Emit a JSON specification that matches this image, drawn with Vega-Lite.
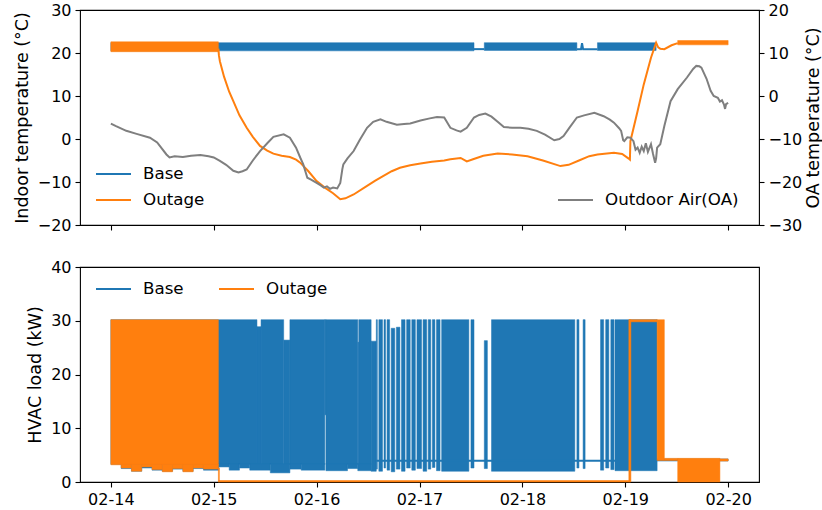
{
  "$schema": "https://vega.github.io/schema/vega-lite/v6.json",
  "background": "white",
  "padding": {"left": 12, "top": 1, "right": 0, "bottom": 2},
  "spacing": 24,
  "config": {
    "font": "DejaVu Sans",
    "view": {"stroke": "#000", "strokeWidth": 1.1},
    "axis": {"grid": false, "domain": false, "tickColor": "#000", "tickSize": 5, "tickWidth": 1.1, "labelColor": "#000", "labelFontSize": 16, "labelFont": "DejaVu Sans", "labelPadding": 4, "titleFont": "DejaVu Sans", "titleFontSize": 17.5, "titleFontWeight": "normal", "titleColor": "#000", "titlePadding": 6},
    "legend": {"labelFont": "DejaVu Sans", "labelFontSize": 16.7, "labelColor": "#000", "symbolType": "stroke", "symbolSize": 1225, "symbolStrokeWidth": 2, "labelOffset": 11, "rowPadding": 6, "clipHeight": 20, "padding": 0}
  },
  "datasets": {
    "tband": [
      {"series": "Base", "s": "2021-02-14T00:00", "e": "2021-02-17T12:43", "lo": 20.5, "hi": 22.4},
      {"series": "Base", "s": "2021-02-17T15:07", "e": "2021-02-18T12:43", "lo": 20.6, "hi": 22.4},
      {"series": "Base", "s": "2021-02-18T17:31", "e": "2021-02-19T07:12", "lo": 20.6, "hi": 22.4},
      {"series": "Outage", "s": "2021-02-14T00:00", "e": "2021-02-15T01:05", "lo": 20.3, "hi": 22.6},
      {"series": "Outage", "s": "2021-02-19T12:14", "e": "2021-02-20T00:00", "lo": 21.9, "hi": 22.9}
    ],
    "tline": [
      {"series": "Base", "seg": "b1", "t": "2021-02-17T12:43", "v": 20.9},
      {"series": "Base", "seg": "b1", "t": "2021-02-17T15:07", "v": 20.9},
      {"series": "Base", "seg": "b2", "t": "2021-02-18T12:43", "v": 20.9},
      {"series": "Base", "seg": "b2", "t": "2021-02-18T13:41", "v": 20.9},
      {"series": "Base", "seg": "b2", "t": "2021-02-18T13:55", "v": 22.3},
      {"series": "Base", "seg": "b2", "t": "2021-02-18T14:10", "v": 20.9},
      {"series": "Base", "seg": "b2", "t": "2021-02-18T17:31", "v": 20.9},
      {"series": "Outage", "seg": "o1", "t": "2021-02-15T01:05", "v": 21.0},
      {"series": "Outage", "seg": "o1", "t": "2021-02-15T01:12", "v": 19.5},
      {"series": "Outage", "seg": "o1", "t": "2021-02-15T01:26", "v": 18.1},
      {"series": "Outage", "seg": "o1", "t": "2021-02-15T02:24", "v": 14.5},
      {"series": "Outage", "seg": "o1", "t": "2021-02-15T03:36", "v": 11.0},
      {"series": "Outage", "seg": "o1", "t": "2021-02-15T04:34", "v": 8.8},
      {"series": "Outage", "seg": "o1", "t": "2021-02-15T06:00", "v": 5.5},
      {"series": "Outage", "seg": "o1", "t": "2021-02-15T07:41", "v": 2.6},
      {"series": "Outage", "seg": "o1", "t": "2021-02-15T09:07", "v": 0.5},
      {"series": "Outage", "seg": "o1", "t": "2021-02-15T10:48", "v": -1.6},
      {"series": "Outage", "seg": "o1", "t": "2021-02-15T12:29", "v": -2.7},
      {"series": "Outage", "seg": "o1", "t": "2021-02-15T13:55", "v": -3.4},
      {"series": "Outage", "seg": "o1", "t": "2021-02-15T15:50", "v": -3.9},
      {"series": "Outage", "seg": "o1", "t": "2021-02-15T17:46", "v": -4.2},
      {"series": "Outage", "seg": "o1", "t": "2021-02-15T19:12", "v": -4.8},
      {"series": "Outage", "seg": "o1", "t": "2021-02-15T20:10", "v": -5.5},
      {"series": "Outage", "seg": "o1", "t": "2021-02-15T22:05", "v": -7.5},
      {"series": "Outage", "seg": "o1", "t": "2021-02-16T00:00", "v": -9.8},
      {"series": "Outage", "seg": "o1", "t": "2021-02-16T01:55", "v": -11.3},
      {"series": "Outage", "seg": "o1", "t": "2021-02-16T03:50", "v": -12.6},
      {"series": "Outage", "seg": "o1", "t": "2021-02-16T05:31", "v": -14.0},
      {"series": "Outage", "seg": "o1", "t": "2021-02-16T06:43", "v": -13.8},
      {"series": "Outage", "seg": "o1", "t": "2021-02-16T08:38", "v": -12.9},
      {"series": "Outage", "seg": "o1", "t": "2021-02-16T11:46", "v": -10.9},
      {"series": "Outage", "seg": "o1", "t": "2021-02-16T13:41", "v": -9.7},
      {"series": "Outage", "seg": "o1", "t": "2021-02-16T15:36", "v": -8.6},
      {"series": "Outage", "seg": "o1", "t": "2021-02-16T17:31", "v": -7.5},
      {"series": "Outage", "seg": "o1", "t": "2021-02-16T19:26", "v": -6.7},
      {"series": "Outage", "seg": "o1", "t": "2021-02-16T21:50", "v": -6.1},
      {"series": "Outage", "seg": "o1", "t": "2021-02-17T00:14", "v": -5.7},
      {"series": "Outage", "seg": "o1", "t": "2021-02-17T02:53", "v": -5.3},
      {"series": "Outage", "seg": "o1", "t": "2021-02-17T05:46", "v": -5.0},
      {"series": "Outage", "seg": "o1", "t": "2021-02-17T07:12", "v": -4.7},
      {"series": "Outage", "seg": "o1", "t": "2021-02-17T09:36", "v": -4.4},
      {"series": "Outage", "seg": "o1", "t": "2021-02-17T11:02", "v": -5.2},
      {"series": "Outage", "seg": "o1", "t": "2021-02-17T12:29", "v": -4.7},
      {"series": "Outage", "seg": "o1", "t": "2021-02-17T14:53", "v": -3.9},
      {"series": "Outage", "seg": "o1", "t": "2021-02-17T18:14", "v": -3.4},
      {"series": "Outage", "seg": "o1", "t": "2021-02-17T21:36", "v": -3.6},
      {"series": "Outage", "seg": "o1", "t": "2021-02-18T01:12", "v": -4.0},
      {"series": "Outage", "seg": "o1", "t": "2021-02-18T04:48", "v": -5.0},
      {"series": "Outage", "seg": "o1", "t": "2021-02-18T08:53", "v": -6.3},
      {"series": "Outage", "seg": "o1", "t": "2021-02-18T10:48", "v": -6.0},
      {"series": "Outage", "seg": "o1", "t": "2021-02-18T13:12", "v": -5.0},
      {"series": "Outage", "seg": "o1", "t": "2021-02-18T15:36", "v": -4.0},
      {"series": "Outage", "seg": "o1", "t": "2021-02-18T17:31", "v": -3.6},
      {"series": "Outage", "seg": "o1", "t": "2021-02-18T21:22", "v": -3.2},
      {"series": "Outage", "seg": "o1", "t": "2021-02-18T23:17", "v": -3.5},
      {"series": "Outage", "seg": "o1", "t": "2021-02-19T00:43", "v": -4.5},
      {"series": "Outage", "seg": "o1", "t": "2021-02-19T01:05", "v": -4.8},
      {"series": "Outage", "seg": "o1", "t": "2021-02-19T01:12", "v": -0.5},
      {"series": "Outage", "seg": "o1", "t": "2021-02-19T02:53", "v": 6.5},
      {"series": "Outage", "seg": "o1", "t": "2021-02-19T04:19", "v": 12.7},
      {"series": "Outage", "seg": "o1", "t": "2021-02-19T06:00", "v": 18.9},
      {"series": "Outage", "seg": "o1", "t": "2021-02-19T07:12", "v": 22.4},
      {"series": "Outage", "seg": "o1", "t": "2021-02-19T07:41", "v": 21.3},
      {"series": "Outage", "seg": "o1", "t": "2021-02-19T08:10", "v": 21.0},
      {"series": "Outage", "seg": "o1", "t": "2021-02-19T09:07", "v": 20.9},
      {"series": "Outage", "seg": "o1", "t": "2021-02-19T10:48", "v": 21.8},
      {"series": "Outage", "seg": "o1", "t": "2021-02-19T12:14", "v": 22.3}
    ],
    "oa": [
      {"name": "Outdoor Air(OA)", "t": "2021-02-14T00:00", "v": -6.4},
      {"name": "Outdoor Air(OA)", "t": "2021-02-14T01:12", "v": -7.0},
      {"name": "Outdoor Air(OA)", "t": "2021-02-14T03:36", "v": -8.1},
      {"name": "Outdoor Air(OA)", "t": "2021-02-14T06:00", "v": -8.8},
      {"name": "Outdoor Air(OA)", "t": "2021-02-14T09:07", "v": -9.7},
      {"name": "Outdoor Air(OA)", "t": "2021-02-14T10:48", "v": -10.8},
      {"name": "Outdoor Air(OA)", "t": "2021-02-14T12:58", "v": -13.6},
      {"name": "Outdoor Air(OA)", "t": "2021-02-14T13:41", "v": -14.3},
      {"name": "Outdoor Air(OA)", "t": "2021-02-14T14:53", "v": -14.0},
      {"name": "Outdoor Air(OA)", "t": "2021-02-14T16:48", "v": -14.2},
      {"name": "Outdoor Air(OA)", "t": "2021-02-14T18:43", "v": -13.9},
      {"name": "Outdoor Air(OA)", "t": "2021-02-14T20:53", "v": -13.7},
      {"name": "Outdoor Air(OA)", "t": "2021-02-14T22:48", "v": -14.0},
      {"name": "Outdoor Air(OA)", "t": "2021-02-15T00:00", "v": -14.3},
      {"name": "Outdoor Air(OA)", "t": "2021-02-15T01:26", "v": -15.1},
      {"name": "Outdoor Air(OA)", "t": "2021-02-15T02:53", "v": -16.0},
      {"name": "Outdoor Air(OA)", "t": "2021-02-15T04:34", "v": -17.4},
      {"name": "Outdoor Air(OA)", "t": "2021-02-15T05:46", "v": -17.8},
      {"name": "Outdoor Air(OA)", "t": "2021-02-15T06:43", "v": -17.5},
      {"name": "Outdoor Air(OA)", "t": "2021-02-15T07:41", "v": -17.1},
      {"name": "Outdoor Air(OA)", "t": "2021-02-15T09:07", "v": -15.0},
      {"name": "Outdoor Air(OA)", "t": "2021-02-15T10:48", "v": -12.8},
      {"name": "Outdoor Air(OA)", "t": "2021-02-15T12:29", "v": -11.0},
      {"name": "Outdoor Air(OA)", "t": "2021-02-15T13:55", "v": -9.5},
      {"name": "Outdoor Air(OA)", "t": "2021-02-15T16:19", "v": -8.9},
      {"name": "Outdoor Air(OA)", "t": "2021-02-15T17:46", "v": -9.7},
      {"name": "Outdoor Air(OA)", "t": "2021-02-15T19:12", "v": -12.0},
      {"name": "Outdoor Air(OA)", "t": "2021-02-15T20:10", "v": -14.3},
      {"name": "Outdoor Air(OA)", "t": "2021-02-15T20:53", "v": -15.9},
      {"name": "Outdoor Air(OA)", "t": "2021-02-15T21:22", "v": -17.5},
      {"name": "Outdoor Air(OA)", "t": "2021-02-15T21:50", "v": -19.0},
      {"name": "Outdoor Air(OA)", "t": "2021-02-15T22:48", "v": -19.5},
      {"name": "Outdoor Air(OA)", "t": "2021-02-16T00:00", "v": -20.2},
      {"name": "Outdoor Air(OA)", "t": "2021-02-16T00:58", "v": -20.8},
      {"name": "Outdoor Air(OA)", "t": "2021-02-16T01:41", "v": -21.3},
      {"name": "Outdoor Air(OA)", "t": "2021-02-16T02:24", "v": -21.0},
      {"name": "Outdoor Air(OA)", "t": "2021-02-16T03:07", "v": -21.6},
      {"name": "Outdoor Air(OA)", "t": "2021-02-16T03:50", "v": -21.3},
      {"name": "Outdoor Air(OA)", "t": "2021-02-16T04:48", "v": -21.5},
      {"name": "Outdoor Air(OA)", "t": "2021-02-16T05:31", "v": -20.2},
      {"name": "Outdoor Air(OA)", "t": "2021-02-16T06:00", "v": -17.0},
      {"name": "Outdoor Air(OA)", "t": "2021-02-16T06:14", "v": -15.9},
      {"name": "Outdoor Air(OA)", "t": "2021-02-16T07:12", "v": -14.5},
      {"name": "Outdoor Air(OA)", "t": "2021-02-16T08:38", "v": -12.8},
      {"name": "Outdoor Air(OA)", "t": "2021-02-16T10:05", "v": -10.2},
      {"name": "Outdoor Air(OA)", "t": "2021-02-16T11:46", "v": -7.4},
      {"name": "Outdoor Air(OA)", "t": "2021-02-16T13:12", "v": -6.0},
      {"name": "Outdoor Air(OA)", "t": "2021-02-16T14:53", "v": -5.4},
      {"name": "Outdoor Air(OA)", "t": "2021-02-16T16:19", "v": -6.0},
      {"name": "Outdoor Air(OA)", "t": "2021-02-16T18:43", "v": -6.7},
      {"name": "Outdoor Air(OA)", "t": "2021-02-16T20:24", "v": -6.5},
      {"name": "Outdoor Air(OA)", "t": "2021-02-16T21:50", "v": -6.4},
      {"name": "Outdoor Air(OA)", "t": "2021-02-17T00:14", "v": -5.7},
      {"name": "Outdoor Air(OA)", "t": "2021-02-17T02:24", "v": -5.2},
      {"name": "Outdoor Air(OA)", "t": "2021-02-17T04:05", "v": -4.9},
      {"name": "Outdoor Air(OA)", "t": "2021-02-17T05:46", "v": -5.0},
      {"name": "Outdoor Air(OA)", "t": "2021-02-17T07:12", "v": -7.4},
      {"name": "Outdoor Air(OA)", "t": "2021-02-17T08:38", "v": -8.0},
      {"name": "Outdoor Air(OA)", "t": "2021-02-17T09:36", "v": -8.3},
      {"name": "Outdoor Air(OA)", "t": "2021-02-17T11:02", "v": -7.4},
      {"name": "Outdoor Air(OA)", "t": "2021-02-17T12:43", "v": -5.0},
      {"name": "Outdoor Air(OA)", "t": "2021-02-17T13:55", "v": -4.4},
      {"name": "Outdoor Air(OA)", "t": "2021-02-17T15:22", "v": -4.1},
      {"name": "Outdoor Air(OA)", "t": "2021-02-17T16:48", "v": -4.8},
      {"name": "Outdoor Air(OA)", "t": "2021-02-17T18:14", "v": -6.0},
      {"name": "Outdoor Air(OA)", "t": "2021-02-17T19:41", "v": -7.2},
      {"name": "Outdoor Air(OA)", "t": "2021-02-17T21:36", "v": -7.4},
      {"name": "Outdoor Air(OA)", "t": "2021-02-17T23:31", "v": -7.4},
      {"name": "Outdoor Air(OA)", "t": "2021-02-18T01:26", "v": -7.6},
      {"name": "Outdoor Air(OA)", "t": "2021-02-18T03:22", "v": -8.1},
      {"name": "Outdoor Air(OA)", "t": "2021-02-18T05:17", "v": -9.0},
      {"name": "Outdoor Air(OA)", "t": "2021-02-18T07:26", "v": -10.3},
      {"name": "Outdoor Air(OA)", "t": "2021-02-18T08:38", "v": -10.0},
      {"name": "Outdoor Air(OA)", "t": "2021-02-18T09:36", "v": -9.3},
      {"name": "Outdoor Air(OA)", "t": "2021-02-18T11:02", "v": -7.3},
      {"name": "Outdoor Air(OA)", "t": "2021-02-18T12:43", "v": -5.0},
      {"name": "Outdoor Air(OA)", "t": "2021-02-18T14:24", "v": -4.5},
      {"name": "Outdoor Air(OA)", "t": "2021-02-18T16:48", "v": -3.9},
      {"name": "Outdoor Air(OA)", "t": "2021-02-18T18:58", "v": -4.7},
      {"name": "Outdoor Air(OA)", "t": "2021-02-18T20:24", "v": -5.5},
      {"name": "Outdoor Air(OA)", "t": "2021-02-18T21:22", "v": -6.2},
      {"name": "Outdoor Air(OA)", "t": "2021-02-18T22:34", "v": -7.5},
      {"name": "Outdoor Air(OA)", "t": "2021-02-18T23:02", "v": -8.1},
      {"name": "Outdoor Air(OA)", "t": "2021-02-18T23:31", "v": -10.3},
      {"name": "Outdoor Air(OA)", "t": "2021-02-18T23:46", "v": -10.5},
      {"name": "Outdoor Air(OA)", "t": "2021-02-19T00:29", "v": -9.6},
      {"name": "Outdoor Air(OA)", "t": "2021-02-19T01:12", "v": -9.7},
      {"name": "Outdoor Air(OA)", "t": "2021-02-19T01:55", "v": -10.5},
      {"name": "Outdoor Air(OA)", "t": "2021-02-19T02:24", "v": -12.5},
      {"name": "Outdoor Air(OA)", "t": "2021-02-19T02:53", "v": -12.0},
      {"name": "Outdoor Air(OA)", "t": "2021-02-19T03:22", "v": -13.2},
      {"name": "Outdoor Air(OA)", "t": "2021-02-19T03:50", "v": -11.8},
      {"name": "Outdoor Air(OA)", "t": "2021-02-19T04:19", "v": -12.8},
      {"name": "Outdoor Air(OA)", "t": "2021-02-19T04:48", "v": -11.0},
      {"name": "Outdoor Air(OA)", "t": "2021-02-19T05:17", "v": -13.0},
      {"name": "Outdoor Air(OA)", "t": "2021-02-19T06:00", "v": -11.2},
      {"name": "Outdoor Air(OA)", "t": "2021-02-19T06:29", "v": -13.5},
      {"name": "Outdoor Air(OA)", "t": "2021-02-19T06:58", "v": -15.5},
      {"name": "Outdoor Air(OA)", "t": "2021-02-19T07:12", "v": -14.5},
      {"name": "Outdoor Air(OA)", "t": "2021-02-19T07:26", "v": -12.0},
      {"name": "Outdoor Air(OA)", "t": "2021-02-19T08:10", "v": -11.2},
      {"name": "Outdoor Air(OA)", "t": "2021-02-19T09:07", "v": -7.0},
      {"name": "Outdoor Air(OA)", "t": "2021-02-19T10:34", "v": -1.2},
      {"name": "Outdoor Air(OA)", "t": "2021-02-19T12:14", "v": 1.6},
      {"name": "Outdoor Air(OA)", "t": "2021-02-19T14:24", "v": 4.3},
      {"name": "Outdoor Air(OA)", "t": "2021-02-19T15:50", "v": 6.3},
      {"name": "Outdoor Air(OA)", "t": "2021-02-19T16:34", "v": 7.0},
      {"name": "Outdoor Air(OA)", "t": "2021-02-19T17:17", "v": 6.9},
      {"name": "Outdoor Air(OA)", "t": "2021-02-19T17:46", "v": 6.6},
      {"name": "Outdoor Air(OA)", "t": "2021-02-19T18:58", "v": 4.0},
      {"name": "Outdoor Air(OA)", "t": "2021-02-19T19:55", "v": 1.2},
      {"name": "Outdoor Air(OA)", "t": "2021-02-19T20:38", "v": 0.0},
      {"name": "Outdoor Air(OA)", "t": "2021-02-19T21:36", "v": -0.4},
      {"name": "Outdoor Air(OA)", "t": "2021-02-19T22:05", "v": -1.3},
      {"name": "Outdoor Air(OA)", "t": "2021-02-19T22:34", "v": -1.0},
      {"name": "Outdoor Air(OA)", "t": "2021-02-19T23:02", "v": -2.0},
      {"name": "Outdoor Air(OA)", "t": "2021-02-19T23:17", "v": -3.0},
      {"name": "Outdoor Air(OA)", "t": "2021-02-19T23:31", "v": -1.9},
      {"name": "Outdoor Air(OA)", "t": "2021-02-20T00:00", "v": -1.6}
    ],
    "hband": [
      {"series": "Base", "s": "2021-02-19T07:26", "e": "2021-02-20T00:00", "lo": 3.9, "hi": 4.3},
      {"series": "Base", "s": "2021-02-14T00:00", "e": "2021-02-15T10:05", "lo": 3.3, "hi": 30.2},
      {"series": "Base", "s": "2021-02-15T10:05", "e": "2021-02-15T11:02", "lo": 3.3, "hi": 28.9},
      {"series": "Base", "s": "2021-02-15T11:02", "e": "2021-02-15T16:19", "lo": 3.3, "hi": 30.2},
      {"series": "Base", "s": "2021-02-15T16:19", "e": "2021-02-15T17:46", "lo": 3.3, "hi": 26.4},
      {"series": "Base", "s": "2021-02-15T17:46", "e": "2021-02-16T01:55", "lo": 3.3, "hi": 30.2},
      {"series": "Base", "s": "2021-02-16T01:55", "e": "2021-02-16T02:10", "lo": 12.5, "hi": 30.2},
      {"series": "Base", "s": "2021-02-16T02:10", "e": "2021-02-16T09:36", "lo": 3.3, "hi": 30.2},
      {"series": "Base", "s": "2021-02-16T09:36", "e": "2021-02-16T09:50", "lo": 3.3, "hi": 26.0},
      {"series": "Base", "s": "2021-02-16T09:50", "e": "2021-02-16T12:43", "lo": 3.3, "hi": 30.2},
      {"series": "Base", "s": "2021-02-16T12:43", "e": "2021-02-16T13:55", "lo": 2.0, "hi": 26.2},
      {"series": "Base", "s": "2021-02-14T02:24", "e": "2021-02-14T04:48", "lo": 2.5, "hi": 3.4},
      {"series": "Base", "s": "2021-02-14T04:48", "e": "2021-02-14T07:12", "lo": 2.0, "hi": 3.4},
      {"series": "Base", "s": "2021-02-14T07:12", "e": "2021-02-14T09:36", "lo": 2.6, "hi": 3.4},
      {"series": "Base", "s": "2021-02-14T09:36", "e": "2021-02-14T12:00", "lo": 2.2, "hi": 3.4},
      {"series": "Base", "s": "2021-02-14T12:00", "e": "2021-02-14T14:24", "lo": 2.0, "hi": 3.4},
      {"series": "Base", "s": "2021-02-14T14:24", "e": "2021-02-14T16:48", "lo": 2.4, "hi": 3.4},
      {"series": "Base", "s": "2021-02-14T16:48", "e": "2021-02-14T19:12", "lo": 2.0, "hi": 3.4},
      {"series": "Base", "s": "2021-02-14T19:12", "e": "2021-02-14T21:36", "lo": 2.5, "hi": 3.4},
      {"series": "Base", "s": "2021-02-14T21:36", "e": "2021-02-15T01:12", "lo": 2.2, "hi": 3.4},
      {"series": "Base", "s": "2021-02-15T01:12", "e": "2021-02-15T03:36", "lo": 2.8, "hi": 3.4},
      {"series": "Base", "s": "2021-02-15T03:36", "e": "2021-02-15T06:00", "lo": 2.2, "hi": 3.4},
      {"series": "Base", "s": "2021-02-15T06:00", "e": "2021-02-15T08:24", "lo": 2.6, "hi": 3.4},
      {"series": "Base", "s": "2021-02-15T08:24", "e": "2021-02-15T13:12", "lo": 2.2, "hi": 3.4},
      {"series": "Base", "s": "2021-02-15T13:12", "e": "2021-02-15T17:46", "lo": 1.7, "hi": 3.4},
      {"series": "Base", "s": "2021-02-15T17:46", "e": "2021-02-15T20:24", "lo": 2.4, "hi": 3.4},
      {"series": "Base", "s": "2021-02-15T20:24", "e": "2021-02-16T01:55", "lo": 2.2, "hi": 3.4},
      {"series": "Base", "s": "2021-02-16T02:10", "e": "2021-02-16T07:12", "lo": 2.1, "hi": 3.4},
      {"series": "Base", "s": "2021-02-16T07:12", "e": "2021-02-16T09:36", "lo": 2.5, "hi": 3.4},
      {"series": "Base", "s": "2021-02-16T09:36", "e": "2021-02-16T12:43", "lo": 2.1, "hi": 3.4},
      {"series": "Base", "s": "2021-02-16T13:55", "e": "2021-02-16T14:10", "lo": 2.4, "hi": 30.2},
      {"series": "Base", "s": "2021-02-16T14:31", "e": "2021-02-16T15:22", "lo": 2.0, "hi": 30.2},
      {"series": "Base", "s": "2021-02-16T15:43", "e": "2021-02-16T16:05", "lo": 2.6, "hi": 30.2},
      {"series": "Base", "s": "2021-02-16T16:26", "e": "2021-02-16T17:02", "lo": 2.2, "hi": 30.2},
      {"series": "Base", "s": "2021-02-16T17:24", "e": "2021-02-16T18:14", "lo": 1.9, "hi": 28.6},
      {"series": "Base", "s": "2021-02-16T18:36", "e": "2021-02-16T19:26", "lo": 2.4, "hi": 28.8},
      {"series": "Base", "s": "2021-02-16T19:48", "e": "2021-02-16T20:38", "lo": 2.0, "hi": 30.2},
      {"series": "Base", "s": "2021-02-16T21:00", "e": "2021-02-16T21:50", "lo": 2.6, "hi": 30.2},
      {"series": "Base", "s": "2021-02-16T22:12", "e": "2021-02-16T23:02", "lo": 2.2, "hi": 30.2},
      {"series": "Base", "s": "2021-02-16T23:24", "e": "2021-02-17T00:29", "lo": 2.5, "hi": 30.2},
      {"series": "Base", "s": "2021-02-17T00:50", "e": "2021-02-17T01:41", "lo": 2.0, "hi": 30.2},
      {"series": "Base", "s": "2021-02-17T02:02", "e": "2021-02-17T02:38", "lo": 2.4, "hi": 30.2},
      {"series": "Base", "s": "2021-02-17T03:00", "e": "2021-02-17T03:36", "lo": 2.7, "hi": 30.2},
      {"series": "Base", "s": "2021-02-17T03:58", "e": "2021-02-17T04:48", "lo": 2.1, "hi": 30.2},
      {"series": "Base", "s": "2021-02-17T05:10", "e": "2021-02-17T11:31", "lo": 2.0, "hi": 30.2},
      {"series": "Base", "s": "2021-02-17T12:00", "e": "2021-02-17T12:43", "lo": 2.6, "hi": 30.2},
      {"series": "Base", "s": "2021-02-17T15:07", "e": "2021-02-17T15:50", "lo": 2.5, "hi": 26.3},
      {"series": "Base", "s": "2021-02-17T16:48", "e": "2021-02-18T12:14", "lo": 2.0, "hi": 30.2},
      {"series": "Base", "s": "2021-02-18T12:43", "e": "2021-02-18T13:12", "lo": 2.6, "hi": 30.2},
      {"series": "Base", "s": "2021-02-18T14:10", "e": "2021-02-18T14:38", "lo": 2.5, "hi": 30.2},
      {"series": "Base", "s": "2021-02-18T18:14", "e": "2021-02-18T18:58", "lo": 2.2, "hi": 30.2},
      {"series": "Base", "s": "2021-02-18T19:26", "e": "2021-02-18T20:10", "lo": 2.6, "hi": 30.2},
      {"series": "Base", "s": "2021-02-18T20:38", "e": "2021-02-18T21:22", "lo": 2.3, "hi": 30.2},
      {"series": "Base", "s": "2021-02-18T21:36", "e": "2021-02-19T07:26", "lo": 2.1, "hi": 30.2},
      {"series": "Outage", "s": "2021-02-14T00:00", "e": "2021-02-15T01:05", "lo": 3.2, "hi": 30.2},
      {"series": "Outage", "s": "2021-02-14T02:24", "e": "2021-02-14T04:48", "lo": 2.6, "hi": 3.3},
      {"series": "Outage", "s": "2021-02-14T04:48", "e": "2021-02-14T07:12", "lo": 2.0, "hi": 3.3},
      {"series": "Outage", "s": "2021-02-14T07:12", "e": "2021-02-14T09:36", "lo": 2.8, "hi": 3.3},
      {"series": "Outage", "s": "2021-02-14T09:36", "e": "2021-02-14T12:00", "lo": 2.3, "hi": 3.3},
      {"series": "Outage", "s": "2021-02-14T12:00", "e": "2021-02-14T14:24", "lo": 1.9, "hi": 3.3},
      {"series": "Outage", "s": "2021-02-14T14:24", "e": "2021-02-14T16:48", "lo": 2.5, "hi": 3.3},
      {"series": "Outage", "s": "2021-02-14T16:48", "e": "2021-02-14T19:12", "lo": 1.9, "hi": 3.3},
      {"series": "Outage", "s": "2021-02-14T19:12", "e": "2021-02-14T21:36", "lo": 2.6, "hi": 3.3},
      {"series": "Outage", "s": "2021-02-14T21:36", "e": "2021-02-15T01:05", "lo": 2.4, "hi": 3.3},
      {"series": "Outage", "s": "2021-02-15T01:05", "e": "2021-02-15T01:19", "lo": 0.0, "hi": 2.6},
      {"series": "Outage", "s": "2021-02-19T00:50", "e": "2021-02-19T01:19", "lo": 0.0, "hi": 30.2},
      {"series": "Outage", "s": "2021-02-19T00:58", "e": "2021-02-19T07:26", "lo": 29.8, "hi": 30.2},
      {"series": "Outage", "s": "2021-02-19T07:26", "e": "2021-02-19T09:07", "lo": 4.0, "hi": 30.2},
      {"series": "Outage", "s": "2021-02-19T09:07", "e": "2021-02-19T12:14", "lo": 4.0, "hi": 4.4},
      {"series": "Outage", "s": "2021-02-19T12:14", "e": "2021-02-19T22:05", "lo": 0.0, "hi": 4.4},
      {"series": "Outage", "s": "2021-02-19T22:05", "e": "2021-02-20T00:00", "lo": 3.9, "hi": 4.3}
    ],
    "hline": [
      {"series": "Base", "t": "2021-02-16T13:55", "v": 3.95},
      {"series": "Base", "t": "2021-02-18T21:36", "v": 3.95},
      {"series": "Outage", "t": "2021-02-15T01:05", "v": 0.12},
      {"series": "Outage", "t": "2021-02-19T00:58", "v": 0.12}
    ]
  },
  "vconcat": [
    {
      "width": 679,
      "height": 215,
      "layer": [
        {
          "layer": [
            {
              "data": {"name": "tband"},
              "mark": {"type": "rect", "strokeWidth": 0.5},
              "encoding": {
                "x": {"field": "s", "type": "temporal", "scale": {"domain": [{"year": 2021, "month": 2, "date": 13, "hours": 16, "minutes": 48}, {"year": 2021, "month": 2, "date": 20, "hours": 7, "minutes": 12}]}, "axis": {"title": null, "labels": false, "values": [{"year": 2021, "month": 2, "date": 14}, {"year": 2021, "month": 2, "date": 15}, {"year": 2021, "month": 2, "date": 16}, {"year": 2021, "month": 2, "date": 17}, {"year": 2021, "month": 2, "date": 18}, {"year": 2021, "month": 2, "date": 19}, {"year": 2021, "month": 2, "date": 20}]}},
                "x2": {"field": "e"},
                "y": {"field": "lo", "type": "quantitative", "scale": {"domain": [-20, 30], "nice": false, "zero": false}, "axis": {"title": "Indoor temperature (°C)", "values": [-20, -10, 0, 10, 20, 30]}},
                "y2": {"field": "hi"},
                "fill": {"field": "series", "type": "nominal", "scale": {"domain": ["Base", "Outage"], "range": ["#1f77b4", "#ff7f0e"]}, "legend": null},
                "stroke": {"field": "series", "type": "nominal", "scale": {"domain": ["Base", "Outage"], "range": ["#1f77b4", "#ff7f0e"]}, "legend": null}
              }
            },
            {
              "data": {"name": "tline"},
              "mark": {"type": "line", "strokeWidth": 2},
              "encoding": {
                "x": {"field": "t", "type": "temporal", "axis": {"title": null, "labels": false, "values": [{"year": 2021, "month": 2, "date": 14}, {"year": 2021, "month": 2, "date": 15}, {"year": 2021, "month": 2, "date": 16}, {"year": 2021, "month": 2, "date": 17}, {"year": 2021, "month": 2, "date": 18}, {"year": 2021, "month": 2, "date": 19}, {"year": 2021, "month": 2, "date": 20}]}},
                "y": {"field": "v", "type": "quantitative", "axis": {"title": "Indoor temperature (°C)", "values": [-20, -10, 0, 10, 20, 30]}},
                "detail": {"field": "seg"},
                "color": {"field": "series", "type": "nominal", "scale": {"domain": ["Base", "Outage"], "range": ["#1f77b4", "#ff7f0e"]}, "legend": {"title": null, "orient": "none", "legendX": 15, "legendY": 154}}
              }
            }
          ]
        },
        {
          "data": {"name": "oa"},
          "mark": {"type": "line", "strokeWidth": 2},
          "encoding": {
            "x": {"field": "t", "type": "temporal", "axis": {"title": null, "labels": false, "values": [{"year": 2021, "month": 2, "date": 14}, {"year": 2021, "month": 2, "date": 15}, {"year": 2021, "month": 2, "date": 16}, {"year": 2021, "month": 2, "date": 17}, {"year": 2021, "month": 2, "date": 18}, {"year": 2021, "month": 2, "date": 19}, {"year": 2021, "month": 2, "date": 20}]}},
            "y": {"field": "v", "type": "quantitative", "scale": {"domain": [-30, 20], "nice": false, "zero": false}, "axis": {"orient": "right", "title": "OA temperature (°C)", "titleAngle": 270, "titleBaseline": "top", "titlePadding": 3, "values": [-30, -20, -10, 0, 10, 20]}},
            "color": {"field": "name", "type": "nominal", "scale": {"domain": ["Outdoor Air(OA)"], "range": ["#7f7f7f"]}, "legend": {"title": null, "orient": "none", "legendX": 477, "legendY": 180}}
          }
        }
      ],
      "resolve": {"scale": {"y": "independent", "color": "independent"}}
    },
    {
      "width": 679,
      "height": 215,
      "layer": [
        {
          "data": {"name": "hband"},
          "mark": {"type": "rect", "strokeWidth": 0.5},
          "encoding": {
            "x": {"field": "s", "type": "temporal", "scale": {"domain": [{"year": 2021, "month": 2, "date": 13, "hours": 16, "minutes": 48}, {"year": 2021, "month": 2, "date": 20, "hours": 7, "minutes": 12}]}, "axis": {"title": null, "format": "%m-%d", "values": [{"year": 2021, "month": 2, "date": 14}, {"year": 2021, "month": 2, "date": 15}, {"year": 2021, "month": 2, "date": 16}, {"year": 2021, "month": 2, "date": 17}, {"year": 2021, "month": 2, "date": 18}, {"year": 2021, "month": 2, "date": 19}, {"year": 2021, "month": 2, "date": 20}]}},
            "x2": {"field": "e"},
            "y": {"field": "lo", "type": "quantitative", "scale": {"domain": [0, 40], "nice": false}, "axis": {"title": "HVAC load (kW)", "values": [0, 10, 20, 30, 40]}},
            "y2": {"field": "hi"},
            "fill": {"field": "series", "type": "nominal", "scale": {"domain": ["Base", "Outage"], "range": ["#1f77b4", "#ff7f0e"]}, "legend": null},
            "stroke": {"field": "series", "type": "nominal", "scale": {"domain": ["Base", "Outage"], "range": ["#1f77b4", "#ff7f0e"]}, "legend": null}
          }
        },
        {
          "data": {"name": "hline"},
          "mark": {"type": "line", "strokeWidth": 2},
          "encoding": {
            "x": {"field": "t", "type": "temporal", "axis": {"title": null, "format": "%m-%d", "values": [{"year": 2021, "month": 2, "date": 14}, {"year": 2021, "month": 2, "date": 15}, {"year": 2021, "month": 2, "date": 16}, {"year": 2021, "month": 2, "date": 17}, {"year": 2021, "month": 2, "date": 18}, {"year": 2021, "month": 2, "date": 19}, {"year": 2021, "month": 2, "date": 20}]}},
            "y": {"field": "v", "type": "quantitative", "axis": {"title": "HVAC load (kW)", "values": [0, 10, 20, 30, 40]}},
            "color": {"field": "series", "type": "nominal", "scale": {"domain": ["Base", "Outage"], "range": ["#1f77b4", "#ff7f0e"]}, "legend": {"title": null, "orient": "none", "legendX": 15, "legendY": 12, "direction": "horizontal", "columns": 2, "columnPadding": 34}}
          }
        }
      ],
      "resolve": {"scale": {"color": "independent"}}
    }
  ],
  "resolve": {"scale": {"color": "independent", "fill": "independent", "stroke": "independent"}}
}
